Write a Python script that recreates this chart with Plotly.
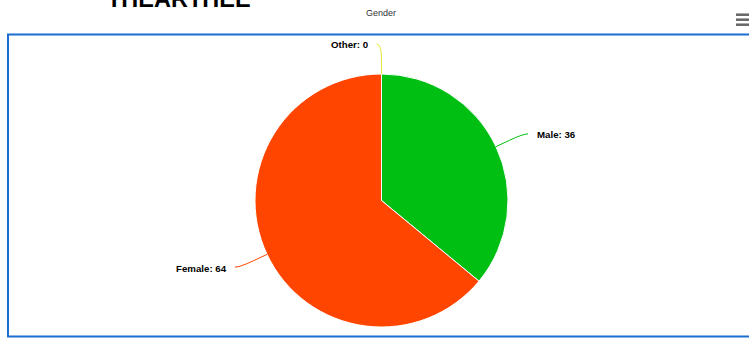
import math
import plotly.graph_objects as go

# Gender breakdown
labels = ["Male", "Female", "Other"]
values = [36, 64, 0]
colors = ["#00bf13", "#ff4500", "#e4e83a"]

W, H = 749, 339
CX, CY, R = 381.5, 200.5, 126.5   # pie centre / radius in page pixels
LABEL_DIST = 30
FONT = "Liberation Sans, Arial, sans-serif"


def px(x):
    return x / W


def py(y):
    return 1 - y / H


fig = go.Figure()
fig.add_trace(go.Pie(
    labels=labels,
    values=values,
    marker=dict(colors=colors, line=dict(color="#ffffff", width=1)),
    sort=False,
    direction="clockwise",
    rotation=0,
    textinfo="none",
    hoverinfo="label+value",
    showlegend=False,
    domain=dict(x=[px(CX - R), px(CX + R)], y=[py(CY + R), py(CY - R)]),
))

shapes = []
annotations = []

# outside labels with soft connectors, positioned from each slice's mid angle
total = sum(values)
cum = 0
for lab, val, col in zip(labels, values, colors):
    mid = (cum + val / 2) / total * 2 * math.pi
    cum += val
    dx, dy = math.sin(mid), -math.cos(mid)
    left = dx < 1e-9  # zero-width slice at the top sits on the left half
    ex, ey = CX + R * dx, CY + R * dy
    bx, by = CX + (R + LABEL_DIST / 2) * dx, CY + (R + LABEL_DIST / 2) * dy
    lx, ly = CX + (R + LABEL_DIST) * dx, CY + (R + LABEL_DIST) * dy
    sx = lx - 5 if left else lx + 5
    path = (f"M {px(sx)} {py(ly)} Q {px(lx)} {py(ly)} {px(bx)} {py(by)} "
            f"L {px(ex)} {py(ey)}")
    shapes.append(dict(type="path", xref="paper", yref="paper", path=path,
                       line=dict(color=col, width=1)))
    tx = sx - 6 if left else sx + 7
    annotations.append(dict(
        x=px(tx), y=py(ly + 1), xref="paper", yref="paper",
        text=f"<b>{lab}: {val}</b>", showarrow=False,
        xanchor="right" if left else "left", yanchor="middle",
        font=dict(family=FONT, size=9.7, color="#000000"),
    ))

# chart title
annotations.append(dict(
    x=px(381), y=py(13), xref="paper", yref="paper", text="Gender",
    showarrow=False, xanchor="center", yanchor="middle",
    font=dict(family=FONT, size=9, color="#333333"),
))

# page heading above the chart frame
annotations.append(dict(
    x=px(105), y=py(-1.5), xref="paper", yref="paper", text="<b>THEARTHEE</b>",
    showarrow=False, xanchor="left", yanchor="middle",
    font=dict(family=FONT, size=23.5, color="#000000"),
))

# blue frame around the chart
shapes.append(dict(type="rect", xref="paper", yref="paper",
                   x0=px(8), x1=px(765), y0=py(336.5), y1=py(34.5),
                   line=dict(color="#1b6fd1", width=2), layer="above"))

# context menu icon
for yb in (14.7, 19.7, 24.7):
    shapes.append(dict(type="line", xref="paper", yref="paper",
                       x0=px(736), x1=px(749), y0=py(yb), y1=py(yb),
                       line=dict(color="#666666", width=2.5)))

fig.update_layout(
    width=W, height=H,
    margin=dict(l=0, r=0, t=0, b=0),
    paper_bgcolor="#ffffff",
    plot_bgcolor="#ffffff",
    shapes=shapes,
    annotations=annotations,
)

fig.write_html("out.html", config={"displayModeBar": False})
